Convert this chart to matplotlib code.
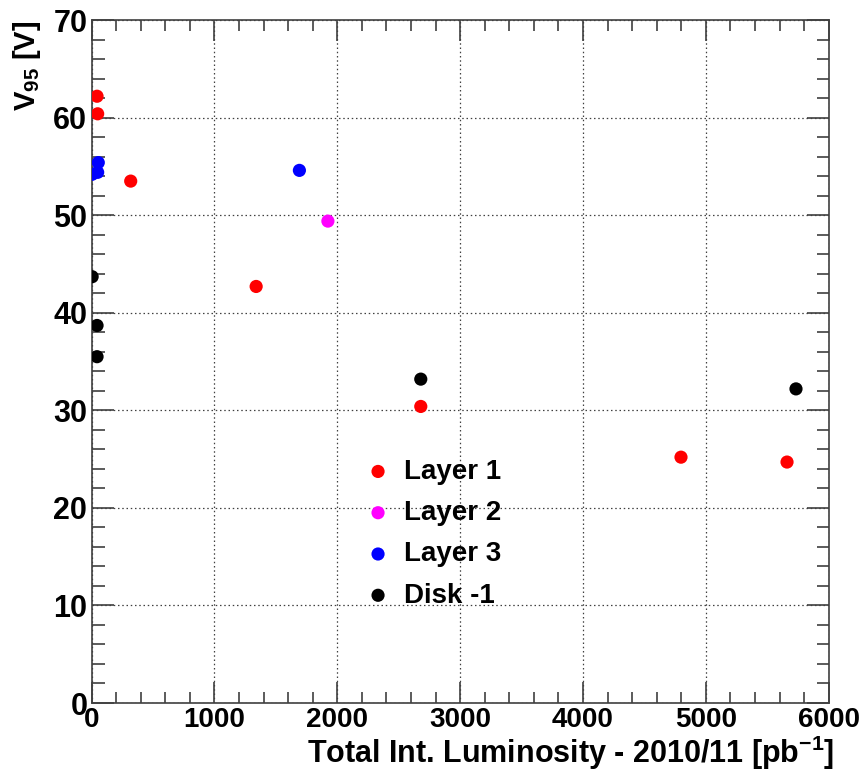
import matplotlib
matplotlib.use("Agg")
import matplotlib.pyplot as plt
from matplotlib.ticker import MultipleLocator

plt.rcParams['font.family'] = ['Liberation Sans', 'DejaVu Sans']
plt.rcParams['font.weight'] = 'bold'
plt.rcParams['mathtext.fontset'] = 'custom'
plt.rcParams['mathtext.rm'] = 'Liberation Sans:bold'
plt.rcParams['mathtext.bf'] = 'Liberation Sans:bold'
plt.rcParams['mathtext.default'] = 'bf'

# Data
layer1_x = [45, 50, 319, 1340, 2680, 4798, 5661]
layer1_y = [62.2, 60.4, 53.5, 42.7, 30.4, 25.2, 24.7]
layer2_x = [1924]
layer2_y = [49.4]
layer3_x = [5, 50, 55, 1692]
layer3_y = [54.2, 54.4, 55.4, 54.6]
disk_x = [5, 45, 45, 2680, 5734]
disk_y = [43.7, 38.7, 35.5, 33.2, 32.2]

series = [
    ("Layer 1", layer1_x, layer1_y, "#ff0000"),
    ("Layer 2", layer2_x, layer2_y, "#ff00ff"),
    ("Layer 3", layer3_x, layer3_y, "#0000ff"),
    ("Disk -1", disk_x, disk_y, "#000000"),
]

fig = plt.figure(figsize=(8.65, 7.75), dpi=100)
ax = fig.add_axes([0.1058, 0.0929, 0.958 - 0.1058, 0.974 - 0.0929])

handles = []
for name, xs, ys, c in series:
    h = ax.scatter(xs, ys, s=90, color=c, edgecolors='none', label=name, zorder=3)
    handles.append(h)

ax.set_xlim(0, 6000)
ax.set_ylim(0, 70)
ax.xaxis.set_major_locator(MultipleLocator(1000))
ax.xaxis.set_minor_locator(MultipleLocator(200))
ax.yaxis.set_major_locator(MultipleLocator(10))
ax.yaxis.set_minor_locator(MultipleLocator(2))

ax.grid(True, which='major', color='0.25', linestyle=(0, (1.2, 2.2)), linewidth=0.9)
ax.set_axisbelow(True)

ax.tick_params(axis='both', which='both', direction='in', top=True, right=True, color='0.25', width=1.2)
ax.tick_params(axis='y', which='major', length=16, labelsize=22, pad=3)
ax.tick_params(axis='y', which='minor', length=9)
ax.tick_params(axis='x', which='major', length=15, labelsize=20, pad=3)
ax.tick_params(axis='x', which='minor', length=8)
for lab in ax.get_xticklabels() + ax.get_yticklabels():
    lab.set_fontweight('bold')
for sp in ax.spines.values():
    sp.set_color('0.25')
    sp.set_linewidth(1.2)

ax.set_xlabel(r"Total Int. Luminosity - 2010/11 [pb$^{-1}$]", fontsize=22, fontweight='bold')
ax.xaxis.set_label_coords(1.008, -0.045)
ax.xaxis.label.set_horizontalalignment('right')
ax.set_ylabel(r"V$_{95}$ [V]", fontsize=21, fontweight='bold')
ax.yaxis.set_label_coords(-0.0875, 1.0)
ax.yaxis.label.set_verticalalignment('center')
ax.yaxis.label.set_horizontalalignment('right')

leg = ax.legend(handles=handles, loc='center left', bbox_to_anchor=(0.351, 0.248),
                frameon=False, handletextpad=0.45, labelspacing=0.55,
                borderpad=0, handlelength=1.0, markerscale=1.0,
                prop={'weight': 'bold', 'size': 20})

fig.savefig("out.png", dpi=100)
